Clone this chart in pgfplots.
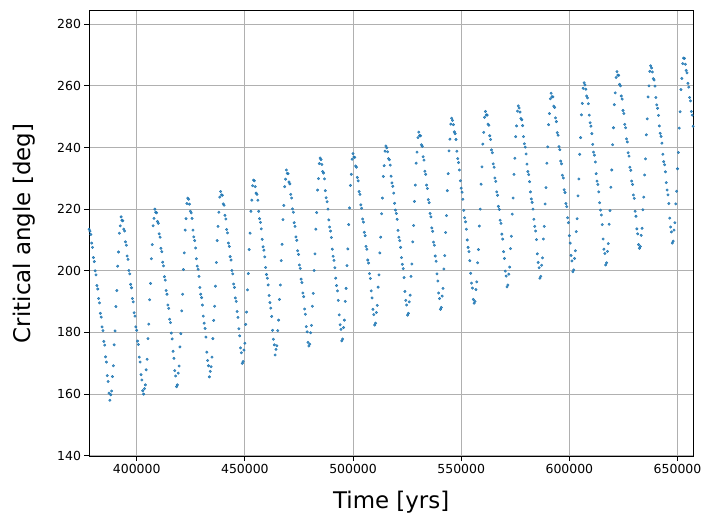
\documentclass[border=0pt]{standalone}
\usepackage{fontspec}
\setmainfont{DejaVu Sans}
\usepackage{pgfplots}
\pgfplotsset{compat=1.18}
\definecolor{mplblue}{HTML}{1F77B4}
\definecolor{gridgray}{HTML}{B0B0B0}
\begin{document}
\begin{tikzpicture}
\useasboundingbox (-89bp,-64.3bp) rectangle (621bp,456.7bp);
\begin{axis}[
 at={(0,0)}, anchor=south west,
 scale only axis, width=604.3bp, height=446.7bp,
 xmin=377950, xmax=657300, ymin=139.7, ymax=284.6,
 xtick={400000,450000,...,650000}, ytick={140,160,...,280},
 scaled x ticks=false,
 xticklabel style={/pgf/number format/fixed, /pgf/number format/1000 sep={}},
 /pgf/number format/assume math mode=true,
 tick label style={font=\fontsize{12.5}{15}\selectfont},
 label style={font=\fontsize{23}{27}\selectfont},
 xlabel={Time [yrs]}, ylabel={Critical angle [deg]},
 xlabel style={at={(axis description cs:0.5,-0.1014)}, anchor=center},
 ylabel style={at={(axis description cs:-0.1076,0.5)}, anchor=center},
 tick align=outside, xtick pos=lower, ytick pos=left,
 major tick length=4.5bp,
 grid=major, grid style={gridgray, line width=0.8bp},
 axis line style={line width=0.8bp, black},
 tick style={line width=0.8bp, black},
]
\addplot[only marks, mark=*, mark size=1.25bp, mplblue, mark options={draw=none, fill=mplblue, fill opacity=0.8}] coordinates {
(378000,213.5)(378400,212.9)(378800,211.8)(379200,209.0)(379600,207.6)(380000,204.3)(380400,203.0)(380800,200.0)(381200,198.7)(381600,195.2)(382000,194.1)(382400,191.0)(382800,189.6)(383200,186.2)(383600,185.0)(384000,181.8)(384400,180.6)(384800,177.1)(385200,175.9)(385600,172.1)(386000,170.4)(386400,166.0)(386800,164.1)(387200,160.3)(387600,158.0)
(388000,159.8)(388400,161.0)(388800,165.7)(389200,169.2)(389600,176.0)(390000,180.5)(390400,188.4)(390800,193.6)(391200,201.5)(391600,206.1)(392000,212.2)(392400,214.6)(392800,217.5)
(393200,216.4)(393600,216.2)(394000,213.5)(394400,212.9)(394800,209.4)(395200,208.3)(395600,204.8)(396000,203.7)(396400,200.1)(396800,199.0)(397200,195.6)(397600,194.5)(398000,191.0)(398400,189.9)(398800,186.4)(399200,185.3)(399600,181.8)(400000,180.7)(400400,177.2)(400800,176.1)(401200,172.0)(401600,170.4)(402000,166.3)(402400,164.6)(402800,161.1)(403200,160.0)
(403600,161.8)(404000,163.0)(404400,167.9)(404800,171.3)(405200,178.0)(405600,182.7)(406000,190.6)(406400,195.9)(406800,203.9)(407200,208.5)(407600,214.6)(408000,217.0)(408400,220.0)
(408800,219.0)(409200,218.8)(409600,216.0)(410000,215.4)(410400,212.0)(410800,210.9)(411200,207.3)(411600,206.2)(412000,202.8)(412400,201.6)(412800,198.1)(413200,197.0)(413600,193.6)(414000,192.4)(414400,188.9)(414800,187.8)(415200,184.3)(415600,183.2)(416000,179.8)(416400,177.9)(416800,173.9)(417200,171.6)(417600,167.6)(418000,165.9)(418400,162.4)
(418800,163.0)(419200,166.8)(419600,169.1)(420000,175.3)(420400,179.6)(420800,187.0)(421200,192.4)(421600,200.4)(422000,205.8)(422400,213.2)(422800,216.9)(423200,221.8)(423600,223.6)
(424000,223.2)(424400,221.6)(424800,219.3)(425200,218.8)(425600,217.0)(426000,213.2)(426400,211.0)(426800,209.8)(427200,207.4)(427600,203.9)(428000,201.5)(428400,200.5)(428800,198.2)(429200,194.6)(429600,192.4)(430000,191.3)(430400,188.9)(430800,185.3)(431200,183.0)(431600,181.3)(432000,178.5)(432400,173.6)(432800,170.9)(433200,169.2)(433600,165.6)
(434000,167.4)(434400,168.9)(434800,172.0)(435200,178.0)(435600,183.9)(436000,188.5)(436400,195.0)(436800,202.7)(437200,209.8)(437600,214.4)(438000,219.0)(438400,223.9)(438800,225.7)
(439200,224.6)(439600,224.5)(440000,221.7)(440400,221.3)(440800,218.0)(441200,216.8)(441600,213.4)(442000,212.3)(442400,209.0)(442800,207.9)(443200,204.6)(443600,203.5)(444000,200.1)(444400,199.0)(444800,195.7)(445200,194.6)(445600,191.2)(446000,190.1)(446400,186.8)(446800,184.9)(447200,181.2)(447600,178.9)(448000,175.0)(448400,173.4)(448800,170.0)
(449200,170.6)(449600,174.3)(450000,176.5)(450400,182.6)(450800,186.6)(451200,193.8)(451600,199.1)(452000,206.9)(452400,212.2)(452800,219.3)(453200,222.9)(453600,227.6)(454000,229.4)
(454400,229.2)(454800,227.3)(455200,225.2)(455600,224.8)(456000,222.9)(456400,219.3)(456800,216.9)(457200,215.7)(457600,213.6)(458000,210.2)(458400,207.8)(458800,206.7)(459200,204.5)(459600,201.1)(460000,198.8)(460400,197.6)(460800,195.4)(461200,192.0)(461600,189.7)(462000,187.9)(462400,185.2)(462800,180.7)(463200,177.8)(463600,176.0)(464000,172.7)
(464400,174.5)(464800,175.7)(465200,180.6)(465600,184.0)(466000,190.7)(466400,195.4)(466800,203.3)(467200,208.6)(467600,216.6)(468000,221.2)(468400,227.3)(468800,229.7)(469200,232.7)
(469600,231.6)(470000,231.5)(470400,228.8)(470800,228.2)(471200,224.8)(471600,223.6)(472000,220.1)(472400,219.0)(472800,215.6)(473200,214.4)(473600,211.0)(474000,209.9)(474400,206.5)(474800,205.3)(475200,201.9)(475600,200.8)(476000,197.3)(476400,196.2)(476800,192.8)(477200,191.6)(477600,187.6)(478000,185.9)(478400,181.9)(478800,180.2)(479200,176.8)(479600,175.6)
(480000,176.2)(480400,179.9)(480800,182.3)(481200,188.5)(481600,192.7)(482000,200.1)(482400,205.5)(482800,213.5)(483200,218.9)(483600,226.2)(484000,229.9)(484400,234.8)(484800,236.6)
(485200,236.1)(485600,234.5)(486000,232.2)(486400,231.7)(486800,229.8)(487200,226.0)(487600,223.7)(488000,222.4)(488400,220.0)(488800,216.5)(489200,214.2)(489600,212.9)(490000,210.8)(490400,207.0)(490800,204.7)(491200,203.4)(491600,201.0)(492000,197.6)(492400,195.2)(492800,193.5)(493200,190.4)(493600,185.7)(494000,182.5)(494400,181.0)(494800,177.3)
(495200,177.9)(495600,181.6)(496000,184.0)(496400,190.1)(496800,194.3)(497200,201.7)(497600,207.1)(498000,215.0)(498400,220.4)(498800,227.7)(499200,231.3)(499600,236.2)(500000,238.0)
(500400,236.9)(500800,236.8)(501200,234.0)(501600,233.6)(502000,230.3)(502400,229.2)(502800,225.7)(503200,224.8)(503600,221.4)(504000,220.3)(504400,216.8)(504800,215.8)(505200,212.5)(505600,211.4)(506000,207.9)(506400,207.0)(506800,203.5)(507200,202.5)(507600,199.1)(508000,197.5)(508400,193.5)(508800,191.2)(509200,187.5)(509600,185.8)(510000,182.4)
(510400,183.0)(510800,186.5)(511200,188.8)(511600,194.7)(512000,198.7)(512400,205.8)(512800,210.9)(513200,218.5)(513600,223.6)(514000,230.6)(514400,234.1)(514800,238.8)(515200,240.5)
(515600,239.9)(516000,238.6)(516400,236.4)(516800,236.0)(517200,234.3)(517600,230.7)(518000,228.5)(518400,227.4)(518800,225.2)(519200,221.9)(519600,219.7)(520000,218.6)(520400,216.7)(520800,213.1)(521200,210.9)(521600,209.8)(522000,207.6)(522400,204.3)(522800,202.1)(523200,200.7)(523600,197.8)(524000,193.3)(524400,190.4)(524800,188.9)(525200,185.6)
(525600,186.2)(526000,189.9)(526400,192.1)(526800,198.2)(527200,202.2)(527600,209.4)(528000,214.7)(528400,222.5)(528800,227.8)(529200,234.9)(529600,238.5)(530000,243.2)(530400,245.0)
(530800,243.9)(531200,243.8)(531600,240.9)(532000,240.4)(532400,237.0)(532800,235.9)(533200,232.3)(533600,231.3)(534000,227.8)(534400,226.7)(534800,223.1)(535200,222.1)(535600,218.6)(536000,217.5)(536400,213.9)(536800,212.8)(537200,209.3)(537600,208.3)(538000,204.8)(538400,203.1)(538800,199.0)(539200,196.7)(539600,192.8)(540000,191.0)(540400,187.5)
(540800,188.1)(541200,191.8)(541600,194.3)(542000,200.6)(542400,204.9)(542800,212.4)(543200,217.9)(543600,226.0)(544000,231.5)(544400,238.9)(544800,242.7)(545200,247.6)(545600,249.5)
(546000,248.8)(546400,247.4)(546800,245.1)(547200,244.5)(547600,242.6)(548000,238.8)(548400,236.4)(548800,235.1)(549200,232.7)(549600,229.2)(550000,226.8)(550400,225.5)(550800,223.2)(551200,219.6)(551600,217.2)(552000,215.9)(552400,213.5)(552800,210.0)(553200,207.6)(553600,206.2)(554000,203.3)(554400,199.2)(554800,196.0)(555200,194.4)(555600,190.7)(556000,189.5)
(556400,190.1)(556800,193.9)(557200,196.4)(557600,202.6)(558000,206.9)(558400,214.5)(558800,220.0)(559200,228.1)(559600,233.7)(560000,241.1)(560400,244.9)(560800,249.8)(561200,251.7)
(561600,250.6)(562000,250.5)(562400,247.6)(562800,247.2)(563200,243.8)(563600,242.6)(564000,239.2)(564400,238.3)(564800,234.7)(565200,233.6)(565600,230.1)(566000,229.0)(566400,225.6)(566800,224.5)(567200,220.9)(567600,219.9)(568000,216.4)(568400,215.4)(568800,211.9)(569200,210.3)(569600,206.2)(570000,204.0)(570400,199.9)(570800,198.3)(571200,194.8)
(571600,195.4)(572000,198.9)(572400,201.2)(572800,207.2)(573200,211.2)(573600,218.4)(574000,223.6)(574400,231.3)(574800,236.5)(575200,243.5)(575600,247.0)(576000,251.8)(576400,253.5)
(576800,252.8)(577200,251.5)(577600,249.4)(578000,249.0)(578400,247.1)(578800,243.5)(579200,241.2)(579600,240.1)(580000,237.9)(580400,234.6)(580800,232.2)(581200,231.2)(581600,228.9)(582000,225.6)(582400,223.3)(582800,222.2)(583200,220.0)(583600,216.7)(584000,214.4)(584400,212.9)(584800,210.1)(585200,205.5)(585600,202.7)(586000,201.0)(586400,197.6)
(586800,198.2)(587200,201.8)(587600,204.2)(588000,210.3)(588400,214.4)(588800,221.7)(589200,227.0)(589600,234.9)(590000,240.2)(590400,247.4)(590800,251.0)(591200,255.8)(591600,257.6)
(592000,256.5)(592400,256.4)(592800,253.4)(593200,253.0)(593600,249.6)(594000,248.4)(594400,244.8)(594800,244.0)(595200,240.3)(595600,239.3)(596000,235.6)(596400,234.7)(596800,231.0)(597200,230.1)(597600,226.3)(598000,225.4)(598400,221.8)(598800,220.8)(599200,217.2)(599600,215.6)(600000,211.4)(600400,209.0)(600800,205.0)(601200,203.2)(601600,199.7)
(602000,200.3)(602400,204.0)(602800,206.5)(603200,212.7)(603600,216.9)(604000,224.3)(604400,229.8)(604800,237.8)(605200,243.2)(605600,250.6)(606000,254.3)(606400,259.2)(606800,261.0)
(607200,260.3)(607600,258.9)(608000,256.7)(608400,256.1)(608800,254.2)(609200,250.5)(609600,248.0)(610000,246.9)(610400,244.5)(610800,241.0)(611200,238.5)(611600,237.5)(612000,235.3)(612400,231.5)(612800,229.1)(613200,228.0)(613600,225.6)(614000,222.1)(614400,219.7)(614800,218.1)(615200,215.0)(615600,210.3)(616000,207.0)(616400,205.6)(616800,201.9)
(617200,202.6)(617600,206.3)(618000,208.8)(618400,215.1)(618800,219.5)(619200,227.1)(619600,232.7)(620000,240.9)(620400,246.4)(620800,253.9)(621200,257.7)(621600,262.7)(622000,264.6)
(622400,263.5)(622800,263.4)(623200,260.5)(623600,260.0)(624000,256.7)(624400,255.7)(624800,252.0)(625200,251.0)(625600,247.5)(626000,246.4)(626400,242.8)(626800,241.8)(627200,238.3)(627600,237.2)(628000,233.6)(628400,232.6)(628800,229.1)(629200,228.0)(629600,224.6)(630000,223.5)(630400,219.3)(630800,217.7)(631200,213.6)(631600,212.0)(632000,208.5)(632400,207.3)
(632800,207.9)(633200,211.5)(633600,213.8)(634000,219.8)(634400,223.9)(634800,231.1)(635200,236.3)(635600,244.1)(636000,249.3)(636400,256.4)(636800,260.0)(637200,264.7)(637600,266.5)
(638000,265.8)(638400,264.5)(638800,262.3)(639200,261.9)(639600,259.9)(640000,256.2)(640400,253.8)(640800,252.7)(641200,250.4)(641600,247.0)(642000,244.6)(642400,243.6)(642800,241.4)(643200,237.8)(643600,235.4)(644000,234.4)(644400,232.1)(644800,228.6)(645200,226.2)(645600,224.6)(646000,221.8)(646400,217.1)(646800,214.2)(647200,212.6)(647600,209.0)
(648000,209.6)(648400,213.2)(648800,215.6)(649200,221.7)(649600,225.8)(650000,233.1)(650400,238.4)(650800,246.3)(651200,251.6)(651600,258.8)(652000,262.4)(652400,267.2)(652800,269.0)
(653200,268.9)(653600,267.0)(654000,265.0)(654400,264.2)(654800,260.8)(655200,259.6)(655600,256.2)(656000,255.1)(656400,251.7)(656800,250.5)(657200,246.9)
};
\end{axis}
\end{tikzpicture}
\end{document}
